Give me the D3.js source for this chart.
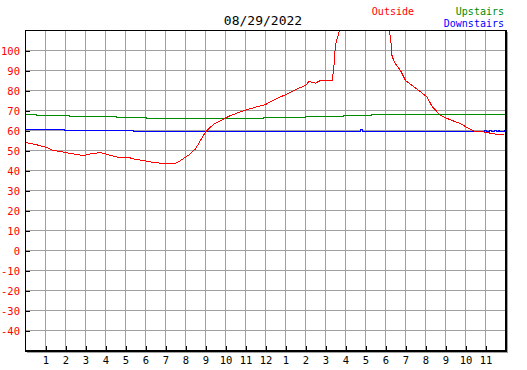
<!DOCTYPE html>
<html><head><meta charset="utf-8">
<script src="https://cdn.jsdelivr.net/npm/d3@7"></script>
<style>
html,body{margin:0;padding:0;background:#fff;}
svg{display:block;}
text{font-family:"DejaVu Sans Mono","Liberation Mono",monospace;}
</style></head>
<body>
<script>
// ---- data ----
const title = "08/29/2022";
const yTicks = [-40,-30,-20,-10,0,10,20,30,40,50,60,70,80,90,100];
const hourTicks = [1,2,3,4,5,6,7,8,9,10,11,12,13,14,15,16,17,18,19,20,21,22,23];
const hourLabels = ["1","2","3","4","5","6","7","8","9","10","11","12","1","2","3","4","5","6","7","8","9","10","11"];
const seriesNames = ["Outside","Upstairs","Downstairs"];
const seriesColors = ["#ff0000","#008c00","#0000ff"];

const outsideTime = [0,0.5,1,1.4,2,2.4,2.9,3.25,3.75,4.1,4.6,5.1,5.4,5.9,6.4,7.1,7.5,7.75,8.17,8.5,8.75,9,9.42,9.92,10.25,11.08,12,12.58,13.08,13.58,14,14.17,14.5,14.75,15.33,15.42,15.5,15.67,15.75,16,16.75,17.5,18.1,18.17,18.25,18.33,18.5,18.75,19,19.33,19.67,20.08,20.33,20.75,21.25,21.75,22.15,22.5,23,23.4,23.9];
const outsideTemp = [54,53,51.7,50,49,48.3,47.5,48.3,49,48,46.7,46.7,45.8,45,44,43.3,43.5,45,47.8,50.8,55,59.2,63.3,65.8,67.5,70.5,73,76,78.3,80.8,82.5,84.5,83.7,85,85,91.7,103,109,110.5,116,121,118,114,110,106.7,97,93.3,90,85,82.5,80,76.7,72,67.5,65.3,63.5,61,59.5,59.2,58.3,57.8];

const upstairsTime = [0,0.55,2.2,4.55,6.05,11.9,14.0,15.9,17.3,24];
const upstairsTemp = [68,67.5,67,66.5,66,66.5,67,67.5,68,68];

const downstairsTime = [0,1.95,5.4,16.75,16.85,22.95,23.05,23.2,23.3,23.45,23.55,23.65,23.7,23.95,24];
const downstairsTemp = [60.5,60,59.7,60.3,59.7,60.2,59.7,60.2,59.7,60.2,59.7,60.2,59.7,60.2,60.2];

// ---- chart ----
const W = 527, H = 370;
const L = 25, R = 505, T = 30, B = 350;
const svg = d3.select("body").append("svg").attr("width", W).attr("height", H);

const x = d3.scaleLinear().domain([0,24]).range([L,R]);
const y = d3.scaleLinear().domain([-50,110]).range([B,T]);

// shadow
svg.append("rect").attr("x", L+2).attr("y", T+2).attr("width", R-L+1).attr("height", B-T+1)
  .attr("fill", "#a0a0a0");
svg.append("rect").attr("x", L).attr("y", T).attr("width", R-L).attr("height", B-T)
  .attr("fill", "#fff");

// grid
const grid = svg.append("g").attr("shape-rendering","crispEdges").attr("stroke","#a0a0a0").attr("stroke-width",1);
grid.selectAll("line.v").data(hourTicks).join("line")
  .attr("x1", d => x(d)+0.5).attr("x2", d => x(d)+0.5).attr("y1", T).attr("y2", B);
grid.selectAll("line.h").data(yTicks).join("line")
  .attr("y1", d => y(d)+0.5).attr("y2", d => y(d)+0.5).attr("x1", L).attr("x2", R);

// clip
svg.append("clipPath").attr("id","clip").append("rect")
  .attr("x", L+1).attr("y", T+1).attr("width", R-L-1).attr("height", B-T-1);

const lineGen = (ts, vs) => d3.line().x((d,i) => x(ts[i])+0.5).y((d,i) => y(vs[i])+0.5)(vs);
const stepGen = (ts, vs) => d3.line().curve(d3.curveStepAfter).x((d,i) => x(ts[i])).y((d,i) => y(vs[i])+0.5)(vs);

const plot = svg.append("g").attr("clip-path","url(#clip)");
plot.append("path").attr("d", stepGen(upstairsTime, upstairsTemp))
  .attr("fill","none").attr("stroke", seriesColors[1]).attr("stroke-width",1).attr("shape-rendering","crispEdges");
plot.append("path").attr("d", stepGen(downstairsTime, downstairsTemp))
  .attr("fill","none").attr("stroke", seriesColors[2]).attr("stroke-width",1).attr("shape-rendering","crispEdges");
plot.append("path").attr("d", lineGen(outsideTime, outsideTemp))
  .attr("fill","none").attr("stroke", seriesColors[0]).attr("stroke-width",1).attr("shape-rendering","crispEdges");

// frame
const fr = svg.append("g").attr("shape-rendering","crispEdges").attr("stroke","#000");
fr.append("line").attr("x1",L).attr("x2",R+2).attr("y1",T+0.5).attr("y2",T+0.5).attr("stroke-width",1);
fr.append("line").attr("x1",L+0.5).attr("x2",L+0.5).attr("y1",T).attr("y2",B+2).attr("stroke-width",1);
fr.append("line").attr("x1",R+1).attr("x2",R+1).attr("y1",T).attr("y2",B+2).attr("stroke-width",2);
fr.append("line").attr("x1",L).attr("x2",R+2).attr("y1",B+0.5).attr("y2",B+0.5).attr("stroke-width",2);

// y axis
const yAxis = d3.axisRight(y).tickValues(yTicks).tickSize(5).tickFormat(d => d);
const ya = svg.append("g").attr("transform", `translate(${L},0.5)`).call(yAxis);
ya.select(".domain").remove();
ya.selectAll(".tick line").attr("stroke","#000").attr("shape-rendering","crispEdges");
ya.selectAll(".tick text").attr("x", -5).attr("dy","0.36em").attr("text-anchor","end")
  .attr("fill","#ff0000").attr("font-size","10.5px").attr("font-family","DejaVu Sans Mono");

// x axis
const xAxis = d3.axisTop(x).tickValues(hourTicks).tickSize(4).tickFormat((d,i) => hourLabels[i]);
const xa = svg.append("g").attr("transform", `translate(0.5,${B})`).call(xAxis);
xa.select(".domain").remove();
xa.selectAll(".tick line").attr("stroke","#000").attr("shape-rendering","crispEdges");
xa.selectAll(".tick text").attr("y", 14).attr("dy", 0).attr("text-anchor","middle")
  .attr("fill","#000").attr("font-size","10.5px").attr("font-family","DejaVu Sans Mono");

// title
svg.append("text").attr("x", 263).attr("y", 25).attr("text-anchor","middle")
  .attr("font-size","13px").attr("fill","#000").text(title);

// legend
svg.append("text").attr("x", 414).attr("y", 15).attr("text-anchor","end")
  .attr("font-size","10px").attr("fill", seriesColors[0]).text(seriesNames[0]);
svg.append("text").attr("x", 504).attr("y", 15).attr("text-anchor","end")
  .attr("font-size","10px").attr("fill", seriesColors[1]).text(seriesNames[1]);
svg.append("text").attr("x", 504).attr("y", 27).attr("text-anchor","end")
  .attr("font-size","10px").attr("fill", seriesColors[2]).text(seriesNames[2]);
</script>
</body></html>
